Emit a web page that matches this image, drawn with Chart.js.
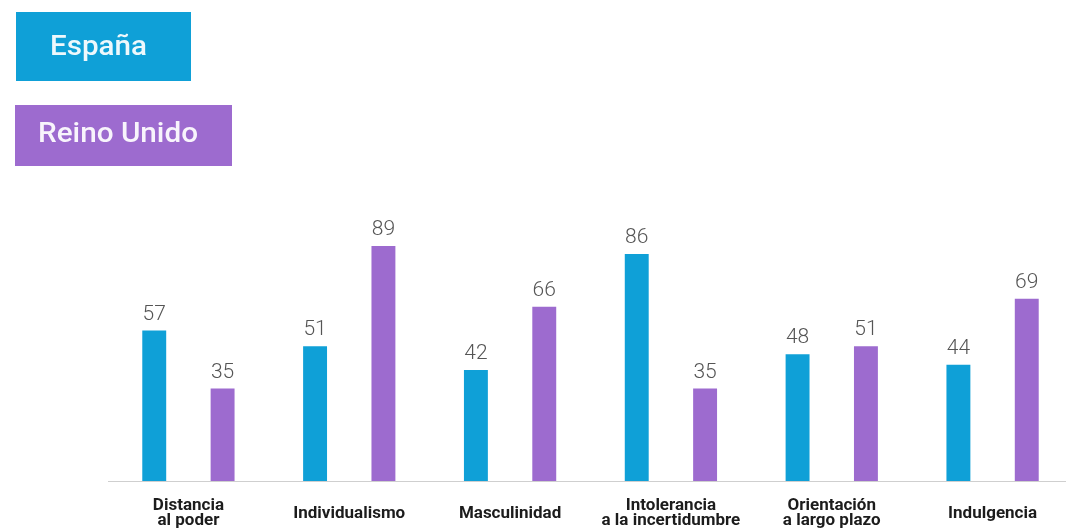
<!DOCTYPE html>
<html>
<head>
<meta charset="utf-8">
<script src="https://cdn.jsdelivr.net/npm/chart.js@4.4.1/dist/chart.umd.min.js"></script>
<style>
  html, body { margin: 0; padding: 0; background: #fff; overflow: hidden; }
  .wrap { width: 1066px; height: 532px; overflow: hidden; position: relative; }
  canvas { position: absolute; left: 0; top: 0; }
</style>
</head>
<body>
<div class="wrap">
  <canvas id="myChart" width="1080" height="532"></canvas>
</div>
<script>
// Hofstede dimensions
const categories = [
  ["Distancia", "al poder"],
  "Individualismo",
  "Masculinidad",
  ["Intolerancia", "a la incertidumbre"],
  ["Orientación", "a largo plazo"],
  "Indulgencia",
];
const seriesNames = ["España", "Reino Unido"];
const espana = [57, 51, 42, 86, 48, 44];
const reinoUnido = [35, 89, 66, 35, 51, 69];
const yTicks = [0, 100];

const BLUE = "#0fa0d7";
const PURPLE = "#9d6bcf";

// values over the bars
const valueLabels = {
  id: "valueLabels",
  afterDatasetsDraw(chart) {
    const ctx = chart.ctx;
    ctx.save();
    ctx.font = "300 21px Roboto";
    ctx.fillStyle = "#555";
    ctx.textAlign = "center";
    ctx.textBaseline = "alphabetic";
    chart.data.datasets.forEach((ds, i) => {
      chart.getDatasetMeta(i).data.forEach((bar, j) => {
        ctx.fillText(String(ds.data[j]), bar.x, bar.y - 11);
      });
    });
    ctx.restore();
  },
};

// boxed legend at the top left
const boxLegend = {
  id: "boxLegend",
  afterDraw(chart) {
    const ctx = chart.ctx;
    const boxes = [
      { x: 16, y: 12, w: 175, h: 69, tx: 50, base: 55, tw: 97 },
      { x: 15, y: 105, w: 217, h: 61, tx: 38, base: 142, tw: 160 },
    ];
    ctx.save();
    chart.data.datasets.forEach((ds, i) => {
      const b = boxes[i];
      ctx.fillStyle = ds.backgroundColor;
      ctx.fillRect(b.x, b.y, b.w, b.h);
      ctx.font = "500 28px Roboto";
      ctx.fillStyle = "rgba(255,255,255,0.93)";
      ctx.textBaseline = "alphabetic";
      ctx.textAlign = "left";
      const m = ctx.measureText(ds.label).width;
      ctx.save();
      ctx.translate(b.tx, b.base);
      ctx.scale(b.tw / m, 1);
      ctx.fillText(ds.label, 0, 0);
      ctx.restore();
    });
    ctx.restore();
  },
};

const chartInstance = new Chart(document.getElementById("myChart"), {
  type: "bar",
  data: {
    labels: categories,
    datasets: [
      {
        label: seriesNames[0],
        data: espana,
        backgroundColor: BLUE,
        categoryPercentage: 0.85,
        barPercentage: 0.35,
      },
      {
        label: seriesNames[1],
        data: reinoUnido,
        backgroundColor: PURPLE,
        categoryPercentage: 0.85,
        barPercentage: 0.35,
      },
    ],
  },
  options: {
    responsive: false,
    animation: false,
    layout: { padding: { left: 108, right: 7, top: 217, bottom: 0 } },
    plugins: {
      legend: { display: false },
      tooltip: { enabled: false },
    },
    scales: {
      x: {
        grid: { display: false, drawTicks: false },
        border: { display: true, color: "#cfcfcf", width: 1 },
        ticks: {
          color: "#1c1c1c",
          font: { family: "Roboto", size: 17, weight: "bold", lineHeight: 0.88 },
          padding: 25,
          crossAlign: "center",
          maxRotation: 0,
          autoSkip: false,
        },
        afterFit(scale) {
          scale.height = 51;
        },
      },
      y: {
        display: false,
        min: yTicks[0],
        max: yTicks[1],
      },
    },
  },
  plugins: [valueLabels, boxLegend],
});
</script>
</body>
</html>
